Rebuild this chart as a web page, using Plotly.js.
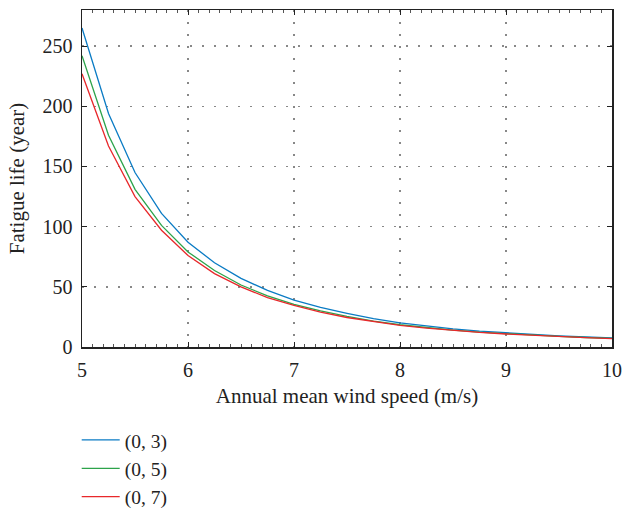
<!DOCTYPE html>
<html>
<head>
<meta charset="utf-8">
<script src="https://cdn.plot.ly/plotly-3.0.1.min.js"></script>
<style>html,body{margin:0;padding:0;background:#fff;}#chart{width:622px;height:510px;}</style>
</head>
<body>
<div id="chart"></div>
<script>
const windSpeed = [5, 5.25, 5.5, 5.75, 6, 6.25, 6.5, 6.75, 7, 7.25, 7.5, 7.75, 8, 8.25, 8.5, 8.75, 9, 9.25, 9.5, 9.75, 10];
const life03 = [265, 194, 145, 111, 87, 70, 57, 47, 39, 33, 28, 23.5, 20, 17.5, 15, 13.2, 11.7, 10.4, 9.3, 8.3, 7.5];
const life05 = [242, 176, 131, 101, 79, 63.5, 51.5, 42.5, 35.5, 30, 25.5, 21.5, 18.5, 16, 14, 12.3, 11, 9.8, 8.8, 7.9, 7.1];
const life07 = [227, 167, 125, 97, 76, 61, 50, 41, 34.5, 29, 24.5, 21, 18, 15.7, 13.8, 12.1, 10.8, 9.6, 8.6, 7.8, 7.0];
const seriesNames = ["(0, 3)", "(0, 5)", "(0, 7)"];
const colors = ["#0a7bc4", "#2ca34a", "#e8282b"];

const serif = "'Liberation Serif', 'DejaVu Serif', serif";
const traces = [life03, life05, life07].map((ys, i) => ({
  x: windSpeed, y: ys, type: "scatter", mode: "lines", name: seriesNames[i],
  line: {color: colors[i], width: 1.3}
}));

const layout = {
  width: 622, height: 510,
  margin: {l: 82, r: 10, t: 10, b: 163, autoexpand: false},
  paper_bgcolor: "#fff", plot_bgcolor: "#fff",
  font: {family: serif, size: 18, color: "#222"},
  showlegend: true,
  legend: {x: -0.01, xanchor: "left", yref: "container", y: 0.175, yanchor: "top", orientation: "v",
    font: {family: serif, size: 19.5, color: "#222"}, bgcolor: "rgba(0,0,0,0)", itemwidth: 38,
    tracegroupgap: 0},
  xaxis: {
    range: [5, 10], dtick: 1, tick0: 5, automargin: false,
    showline: true, linecolor: "#222", linewidth: 1.5, mirror: "ticks",
    ticks: "inside", ticklen: 5, tickcolor: "#222",
    showgrid: true, gridcolor: "#888", griddash: "2px,10px", gridwidth: 1.5,
    minor: {dtick: 0.1, ticks: "inside", ticklen: 3, tickcolor: "#555", showgrid: false},
    zeroline: false, ticklabelstandoff: 4,
    title: {text: "Annual mean wind speed (m/s)", font: {family: serif, size: 21, color: "#222"}, standoff: 9},
    tickfont: {family: serif, size: 20, color: "#222"}
  },
  yaxis: {
    range: [0, 280], dtick: 50, tick0: 0, automargin: false,
    showline: true, linecolor: "#222", linewidth: 1.5, mirror: "ticks",
    ticks: "inside", ticklen: 5, tickcolor: "#222",
    showgrid: true, gridcolor: "#888", griddash: "2px,10px", gridwidth: 1.5,
    zeroline: false, ticklabelstandoff: 4,
    title: {text: "Fatigue life (year)", font: {family: serif, size: 21, color: "#222"}, standoff: 12},
    tickfont: {family: serif, size: 20, color: "#222"}
  }
};

Plotly.newPlot("chart", traces, layout, {displayModeBar: false, staticPlot: true});
</script>
</body>
</html>
